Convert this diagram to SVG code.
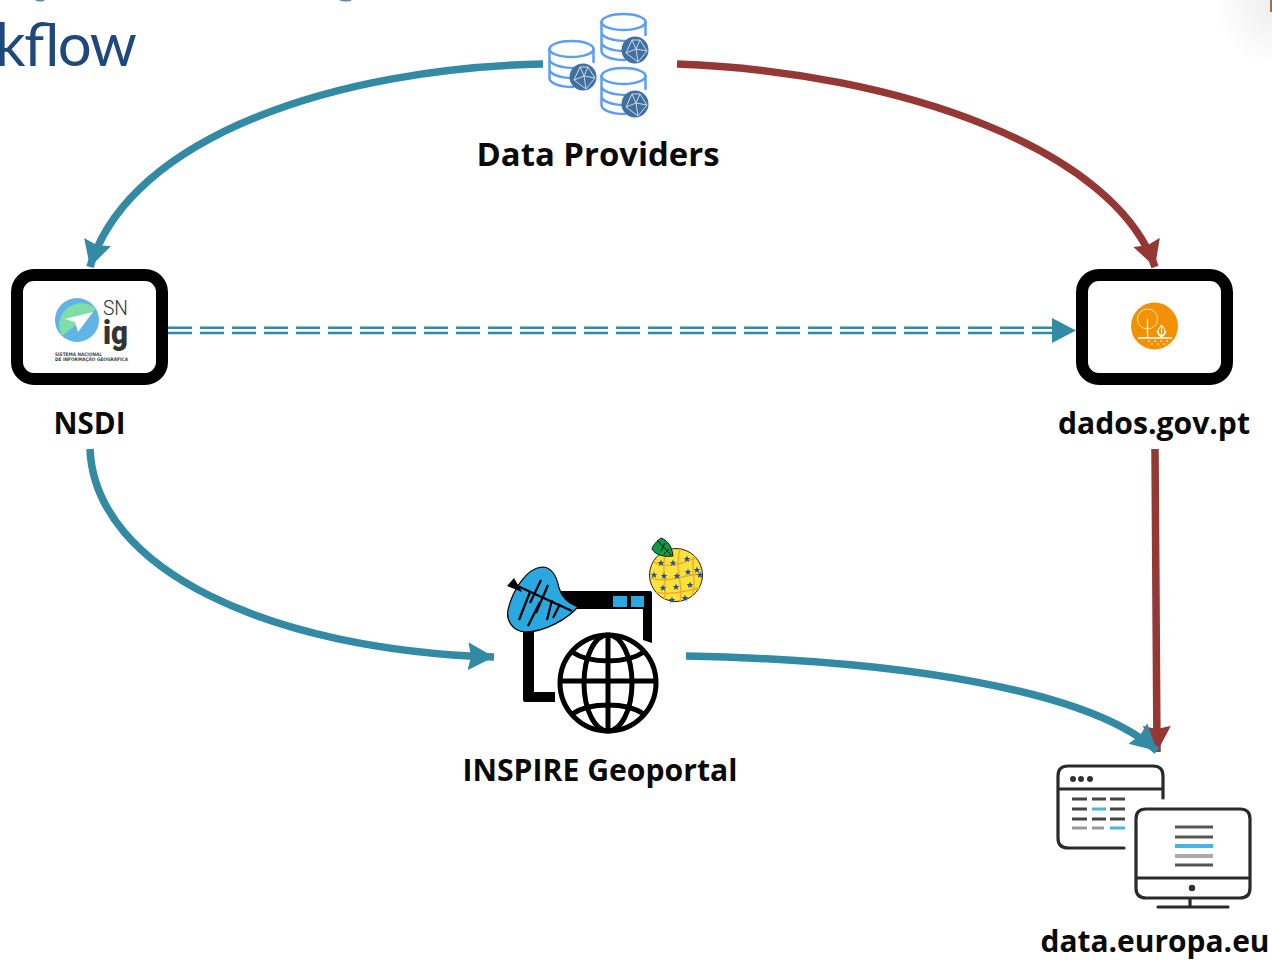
<svg xmlns="http://www.w3.org/2000/svg" width="1272" height="960" viewBox="0 0 1272 960">
<style>
.lbl{font-family:"Open Sans","Liberation Sans",sans-serif;font-weight:700;font-size:31px;fill:#0a0a0a;text-anchor:middle}
.frame{fill:#fff;stroke:#000;stroke-width:12}
.teal{fill:none;stroke:#338aa4;stroke-width:7.5}
.red{fill:none;stroke:#953735;stroke-width:7.5}
.db{fill:none;stroke:#5b9df5;stroke-width:2.5;stroke-linecap:round}
.net{fill:none;stroke:#cfdcec;stroke-width:1}
.dark{fill:none;stroke:#2a2a2a;stroke-width:3.2;stroke-linecap:round}
.bar{stroke-width:3;stroke-linecap:butt;fill:none}
.globe{fill:none;stroke:#000;stroke-width:5}
.icon{filter:url(#soft)}
</style>
<defs>
<filter id="soft" x="-5%" y="-5%" width="110%" height="110%"><feGaussianBlur stdDeviation="0.5"/></filter>
<marker id="hTeal" markerUnits="userSpaceOnUse" markerWidth="28" markerHeight="30" refX="26" refY="15" orient="auto"><path d="M0 1L26 15L0 29L3 15Z" fill="#338aa4"/></marker>
<marker id="hRed" markerUnits="userSpaceOnUse" markerWidth="28" markerHeight="30" refX="26" refY="15" orient="auto"><path d="M0 1L26 15L0 29L3 15Z" fill="#953735"/></marker>
<radialGradient id="corner" cx="1" cy="0.1" r="1"><stop offset="0" stop-color="#efefef"/><stop offset="1" stop-color="#fff"/></radialGradient>
<path id="st" d="M0 -3.400L1 -1L3.400 -1L1.500 .6L2.200 3L0 1.600L-2.200 3L-1.500 .6L-3.400 -1L-1 -1Z" fill="#274fa0"/>
<g id="dbi">
<ellipse cx="22.500" cy="9" rx="22" ry="8" class="db"/>
<path class="db" d="M.5 9V38C.5 43 10 47 24 47M.5 19C.5 24 10 28 27 28M.5 29C.5 34 10 38 24 38M44.500 9V22"/>
<circle cx="34" cy="37" r="13.500" fill="#3f6f9f"/>
<path class="net" d="M25 40L31 27L39 27L46 38L37 49L25 40M31 27L35 36L46 38M35 36L37 49M35 36L25 40M39 27L35 36"/>
</g>
</defs>
<rect x="1215" y="0" width="57" height="60" fill="url(#corner)"/>
<rect x="1270" y="0" width="2" height="12" fill="#a0714f"/>
<path d="M35 0C38 2 43 2 45 0ZM339 0C343 2 349 2 352 0Z" fill="#5f86b4"/>
<text x="-5" y="66" font-family="Lato,Open Sans,sans-serif" font-size="60" fill="#1f497d" textLength="142" lengthAdjust="spacing">kflow</text>

<g id="connectors">
<path class="teal" marker-end="url(#hTeal)" d="M543 64C340 68 130 135 90 267"/>
<path class="red" marker-end="url(#hRed)" d="M677 64C900 72 1115 150 1155 267"/>
<path d="M168 327.700H1055M168 333H1055" fill="none" stroke="#338aa4" stroke-width="2.600" stroke-dasharray="24 8"/>
<path d="M1052 318L1076 330.500L1052 343Z" fill="#338aa4"/>
<path class="teal" marker-end="url(#hTeal)" d="M90 449C95 570 270 650 494 657"/>
<path class="red" marker-end="url(#hRed)" d="M1155 449L1157 752"/>
<path class="teal" marker-end="url(#hTeal)" d="M686 656C900 660 1090 690 1157 751"/>
</g>

<g id="data-providers">
<g class="icon">
<use href="#dbi" x="549" y="40"/>
<use href="#dbi" x="601" y="13"/>
<use href="#dbi" x="601" y="67"/>
</g>
<text class="lbl" x="598" y="166" textLength="243" lengthAdjust="spacingAndGlyphs" style="font-size:33px">Data Providers</text>
</g>

<g id="nsdi">
<rect class="frame" x="17" y="275" width="145" height="104" rx="17"/>
<g class="icon">
<circle cx="77" cy="320" r="22" fill="#60b4e6"/>
<path d="M96 309A22 22 0 0 0 62 336Z" fill="#80dfa8"/>
<path d="M65 319L93 312L78 332L75 322Z" fill="#fff"/>
</g>
<text x="103" y="315" font-family="Roboto,sans-serif" font-size="21" fill="#333" font-weight="300" textLength="25" lengthAdjust="spacingAndGlyphs">SN</text>
<text x="103" y="344" font-family="Roboto,sans-serif" font-size="34" fill="#333" font-weight="900" textLength="25" lengthAdjust="spacingAndGlyphs">ig</text>
<text x="55" y="356" font-family="DejaVu Sans,sans-serif" font-size="4.800" font-weight="700" fill="#444" textLength="47" lengthAdjust="spacingAndGlyphs">SISTEMA NACIONAL</text>
<text x="55" y="361" font-family="DejaVu Sans,sans-serif" font-size="4.800" font-weight="700" fill="#444" textLength="73" lengthAdjust="spacingAndGlyphs">DE INFORMAÇÃO GEOGRÁFICA</text>
<text class="lbl" x="89.500" y="434" textLength="72" lengthAdjust="spacingAndGlyphs">NSDI</text>
</g>

<g id="dados">
<rect class="frame" x="1082" y="275" width="145" height="104" rx="17"/>
<g class="icon">
<circle cx="1154.500" cy="326" r="23.500" fill="#f39200"/>
<circle cx="1147.500" cy="319" r="10" fill="none" stroke="#fde3b8" stroke-width="1"/>
<path d="M1147.500 319V337M1138 338H1172" stroke="#fff" stroke-width="1.300" fill="none"/>
<path d="M1161.500 337V326M1161.500 325C1157 330 1157 334 1161.500 336C1166 334 1166 330 1161.500 325M1157 331C1158 335 1160 336 1161.500 337C1163 336 1165 335 1166 331" stroke="#fff" stroke-width="1.100" fill="none"/>
<path d="M1148 341h2M1154 341h2M1160 341h2M1166 341h2M1151 344h2M1157 344h2M1163 344h2" stroke="#fff" stroke-width="1.100"/>
</g>
<text class="lbl" x="1154" y="434" textLength="192" lengthAdjust="spacingAndGlyphs">dados.gov.pt</text>
</g>

<g id="inspire">
<g class="icon">
<path d="M556 591H650Q652 591 652 593V643L643 640V609H556ZM523 628H534V692H555V702H525Q523 702 523 700Z" fill="#000"/>
<rect x="613" y="596" width="14" height="11" fill="#29a8e0"/>
<rect x="631" y="596" width="13" height="11" fill="#29a8e0"/>
<path d="M542 567C552 567 557 578 559 588C562 598 570 604 578 607C568 618 546 632 525 632C512 631 506 620 508 610C512 592 526 568 542 567Z" fill="#29a8e0" stroke="#000" stroke-width="1.200"/>
<path d="M511 583L572 611" fill="none" stroke="#000" stroke-width="2.400"/>
<path d="M541 580L530 603M548 585L536 613M530 592L519 620M540 602L528 626M552 600L547 620M560 604L553 618" fill="none" stroke="#000" stroke-width="2.200"/>
<path d="M507 586L514 578L522 592Z" fill="#000"/>
<g class="globe">
<circle cx="608" cy="683" r="48"/>
<ellipse cx="608" cy="683" rx="24" ry="48"/>
<path d="M608 635V731M560 681H656M572 652C590 664 626 664 644 652M572 714C590 702 626 702 644 714"/>
</g>
<circle cx="676" cy="575" r="26.500" fill="#fde23a" stroke="#222" stroke-width="1"/>
<path d="M654 562C668 570 684 562 696 558M651 578C668 584 684 574 702 574M656 592C670 596 688 590 700 588M666 551C660 568 668 586 664 600M680 549C674 568 684 586 680 602M694 556C690 570 698 582 692 596" fill="none" stroke="#f0a52a" stroke-width="1.300"/>
<use href="#st" x="661" y="563"/><use href="#st" x="673" y="563"/><use href="#st" x="687" y="559"/><use href="#st" x="697" y="570"/>
<use href="#st" x="654" y="575"/><use href="#st" x="664" y="576"/><use href="#st" x="677" y="576"/><use href="#st" x="688" y="572"/>
<use href="#st" x="663" y="588"/><use href="#st" x="676" y="587"/><use href="#st" x="690" y="585"/><use href="#st" x="672" y="600"/><use href="#st" x="685" y="598"/><use href="#st" x="700" y="575"/>
<path d="M661 538C669 541 672 548 673 556C666 557 656 556 652 549C653 545 657 541 661 538Z" fill="#0b9a45" stroke="#111" stroke-width="1"/>
<path d="M657 540L671 555M665 543L661 551M669 549L664 554" fill="none" stroke="#111" stroke-width="1"/>
</g>
<text class="lbl" x="600" y="781" textLength="275" lengthAdjust="spacingAndGlyphs">INSPIRE Geoportal</text>
</g>

<g id="data-europa">
<g class="icon">
<path class="dark" d="M1163 798V776Q1163 766 1153 766H1068Q1058 766 1058 776V838Q1058 848 1068 848H1124M1058 789H1163"/>
<circle cx="1073" cy="779" r="3" fill="#333"/><circle cx="1081" cy="779" r="3" fill="#333"/><circle cx="1090" cy="779" r="3" fill="#333"/>
<path class="bar" stroke="#444" d="M1072 799h15M1092 799h14M1110 799h15M1072 809h15M1110 809h15M1072 819h15M1092 819h14M1110 819h15"/>
<path class="bar" stroke="#999" d="M1072 828h15M1092 828h12"/>
<path class="bar" stroke="#46b4e6" d="M1092 809h14M1110 828h15"/>
<path class="dark" d="M1146 809H1240Q1250 809 1250 819V888Q1250 898 1240 898H1146Q1136 898 1136 888V819Q1136 809 1146 809ZM1136 878H1250M1190 898V907M1158 907H1228"/>
<circle cx="1192" cy="888" r="3.200" fill="#333"/>
<path class="bar" stroke="#555" d="M1175 827h38M1175 837h38M1175 865h38"/>
<path class="bar" stroke="#46b4e6" style="stroke-width:4" d="M1175 846h38"/>
<path class="bar" stroke="#aaa" style="stroke-width:4" d="M1175 856h38"/>
</g>
<text class="lbl" x="1155" y="952" textLength="229" lengthAdjust="spacingAndGlyphs">data.europa.eu</text>
</g>
</svg>
